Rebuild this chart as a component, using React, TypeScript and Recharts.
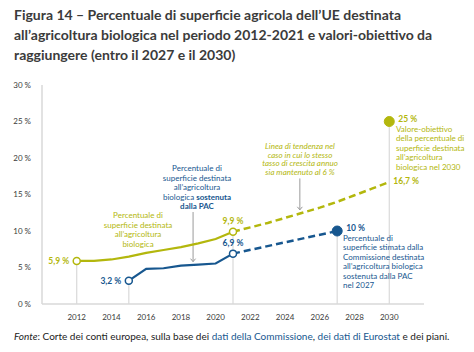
import React from 'react';
import {
  ComposedChart,
  Line,
  XAxis,
  YAxis,
  ReferenceLine,
  ReferenceDot,
} from 'recharts';

const GREEN = '#b3b70d';
const BLUE = '#17578f';
const GRID = '#d9d9d9';
const TEXT = '#3b3b3b';
const FONT = 'Lato, "Open Sans", sans-serif';

// observed share of organic farming area (% of EU UAA)
const organicYears = [2012, 2013, 2014, 2015, 2016, 2017, 2018, 2019, 2020, 2021];
const organicShare = [5.9, 5.9, 6.1, 6.5, 7.0, 7.4, 7.8, 8.3, 8.9, 9.9];

// share supported by the CAP
const capYears = [2015, 2016, 2017, 2018, 2019, 2020, 2021];
const capShare = [3.2, 4.8, 4.9, 5.25, 5.4, 5.55, 6.9];

// trend line (6 % annual growth) 2021-2030
const trendYears = [2021, 2022, 2023, 2024, 2025, 2026, 2027, 2028, 2029, 2030];
const trendShare = [9.9, 10.5, 11.1, 11.8, 12.5, 13.2, 14.0, 14.9, 15.8, 16.7];

// Commission estimate for 2027
const capEstimateYears = [2021, 2027];
const capEstimateShare = [6.9, 10];

const targetYear = 2030;
const targetValue = 25;

const xTicks = [2012, 2014, 2016, 2018, 2020, 2022, 2024, 2026, 2028, 2030];
const yTicks = [0, 5, 10, 15, 20, 25, 30];

const toRows = (xs: number[], ys: number[]) => xs.map((year, i) => ({ year, value: ys[i] }));

const organicData = toRows(organicYears, organicShare);
const capData = toRows(capYears, capShare);
const trendData = toRows(trendYears, trendShare);
const capEstimateData = toRows(capEstimateYears, capEstimateShare);

// vertical guide lines from highlighted points down to the axis
const dropLines = [
  { x: 2012, y: 5.9 },
  { x: 2015, y: 3.2 },
  { x: 2021, y: 9.9 },
  { x: 2027, y: 10 },
  { x: 2030, y: 25 },
];

// annotation arrows
const arrows = [
  { x: 2018.7, from: 12.6, to: 5.8 },
  { x: 2024.85, from: 17.2, to: 12.9 },
];

const Arrow = (props: any) => {
  const { x1, y1, x2, y2 } = props;
  return (
    <g stroke="#9a9a9a" strokeWidth={1} fill="none">
      <line x1={x1} y1={y1} x2={x2} y2={y2} />
      <polyline points={`${x2 - 2.5},${y2 - 3} ${x2},${y2} ${x2 + 2.5},${y2 - 3}`} />
    </g>
  );
};

const valueLabel = (value: string, color: string, position: any, offset: number, dy = 0) => ({
  value,
  position,
  offset,
  dy,
  fill: color,
  fontSize: 8.5,
  fontWeight: 700,
  fontFamily: FONT,
});

const App: React.FC = () => {
  const note = { fontFamily: FONT, fontSize: 8 };
  return (
    <div style={{ position: 'absolute', left: 0, top: 0, width: 474, height: 352, background: '#fff' }}>
      <ComposedChart
        width={474}
        height={352}
        margin={{ top: 85, right: 50, bottom: 0, left: 0 }}
      >
        <XAxis
          dataKey="year"
          type="number"
          domain={[2010, 2032]}
          ticks={xTicks}
          allowDataOverflow
          height={48}
          tickLine={false}
          axisLine={{ stroke: GRID, strokeWidth: 1.5 }}
          tick={{ fill: TEXT, fontSize: 8, fontFamily: FONT }}
          tickMargin={4}
        />
        <YAxis
          type="number"
          domain={[0, 30]}
          ticks={yTicks}
          width={42}
          tickLine={false}
          axisLine={{ stroke: GRID, strokeWidth: 1.5 }}
          tick={{ fill: TEXT, fontSize: 8, fontFamily: FONT }}
          tickMargin={5}
          tickFormatter={(v: number) => `${v} %`}
        />
        {dropLines.map((d) => (
          <ReferenceLine
            key={d.x}
            segment={[{ x: d.x, y: 0 }, { x: d.x, y: d.y }]}
            stroke={GRID}
            strokeWidth={1.2}
          />
        ))}
        {arrows.map((a) => (
          <ReferenceLine
            key={a.x}
            segment={[{ x: a.x, y: a.from }, { x: a.x, y: a.to }]}
            shape={Arrow}
          />
        ))}
        <Line
          data={trendData}
          dataKey="value"
          stroke={GREEN}
          strokeWidth={2.5}
          strokeDasharray="7 4"
          dot={false}
          isAnimationActive={false}
        />
        <Line
          data={capEstimateData}
          dataKey="value"
          stroke={BLUE}
          strokeWidth={2.5}
          strokeDasharray="7 4"
          dot={false}
          isAnimationActive={false}
        />
        <Line
          data={organicData}
          dataKey="value"
          stroke={GREEN}
          strokeWidth={2.2}
          dot={false}
          isAnimationActive={false}
        />
        <Line
          data={capData}
          dataKey="value"
          stroke={BLUE}
          strokeWidth={2.2}
          dot={false}
          isAnimationActive={false}
        />
        <ReferenceDot x={2012} y={5.9} r={3.5} fill="#fff" stroke={GREEN} strokeWidth={1.5}
          label={valueLabel('5,9 %', GREEN, 'left', 4)} />
        <ReferenceDot x={2015} y={3.2} r={3.5} fill="#fff" stroke={BLUE} strokeWidth={1.5}
          label={valueLabel('3,2 %', BLUE, 'left', 4)} />
        <ReferenceDot x={2021} y={9.9} r={3.5} fill="#fff" stroke={GREEN} strokeWidth={1.5}
          label={valueLabel('9,9 %', GREEN, 'top', 4)} />
        <ReferenceDot x={2021} y={6.9} r={3.5} fill="#fff" stroke={BLUE} strokeWidth={1.5}
          label={valueLabel('6,9 %', BLUE, 'top', 4)} />
        <ReferenceDot x={2027} y={10} r={5} fill={BLUE} stroke={BLUE}
          label={valueLabel('10 %', BLUE, 'right', 4, -3)} />
        <ReferenceDot x={targetYear} y={targetValue} r={5} fill={GREEN} stroke={GREEN}
          label={valueLabel('25 %', GREEN, 'right', 4, -3)} />
        <ReferenceDot x={2030} y={16.7} r={0} fill="none" stroke="none"
          label={valueLabel('16,7 %', GREEN, 'right', 4, -1)} />
      </ComposedChart>

      <svg width={474} height={352} style={{ position: 'absolute', left: 0, top: 0, pointerEvents: 'none' }}>
        <g fontFamily={FONT} fontWeight={700} fontSize={14} fill={TEXT}>
          <text x={14} y={20}>Figura 14 – Percentuale di superficie agricola dell’UE destinata</text>
          <text x={14} y={40}>all’agricoltura biologica nel periodo 2012-2021 e valori-obiettivo da</text>
          <text x={14} y={59.5}>raggiungere (entro il 2027 e il 2030)</text>
        </g>

        <g {...note} fill={GREEN} textAnchor="middle">
          <text x={138} y={218}>Percentuale di</text>
          <text x={138} y={227.5}>superficie destinata</text>
          <text x={138} y={237}>all’agricoltura</text>
          <text x={138} y={246.5}>biologica</text>
        </g>

        <g {...note} fill={BLUE} textAnchor="middle">
          <text x={197} y={170.5}>Percentuale di</text>
          <text x={197} y={180.5}>superficie destinata</text>
          <text x={197} y={190}>all’agricoltura</text>
          <text x={197} y={199.5}>biologica <tspan fontWeight={700}>sostenuta</tspan></text>
          <text x={197} y={209} fontWeight={700}>dalla PAC</text>
        </g>

        <g fontFamily={FONT} fontSize={8} fontStyle="italic" fill={GREEN} textAnchor="middle">
          <text x={300} y={149}>Linea di tendenza nel</text>
          <text x={300} y={157.5}>caso in cui lo stesso</text>
          <text x={300} y={166}>tasso di crescita annuo</text>
          <text x={300} y={174.5}>sia mantenuto al 6 %</text>
        </g>

        <g {...note} fill={GREEN}>
          <text x={396} y={131.5}>Valore-obiettivo</text>
          <text x={396} y={141}>della percentuale di</text>
          <text x={396} y={150.5}>superficie destinata</text>
          <text x={396} y={160}>all’agricoltura</text>
          <text x={396} y={169.5}>biologica nel 2030</text>
        </g>

        <g {...note} fill={BLUE}>
          <text x={343} y={240.5}>Percentuale di</text>
          <text x={343} y={250}>superficie stimata dalla</text>
          <text x={343} y={259.5}>Commissione destinata</text>
          <text x={343} y={269}>all’agricoltura biologica</text>
          <text x={343} y={278.5}>sostenuta dalla PAC</text>
          <text x={343} y={288}>nel 2027</text>
        </g>

        <text x={14} y={340} fontFamily={FONT} fontSize={10} fill="#222">
          <tspan fontStyle="italic">Fonte</tspan>
          <tspan>: Corte dei conti europea, sulla base dei </tspan>
          <tspan fill={BLUE}>dati della Commissione</tspan>
          <tspan>, </tspan>
          <tspan fill={BLUE}>dei dati di Eurostat</tspan>
          <tspan> e dei piani.</tspan>
        </text>
      </svg>
    </div>
  );
};

export default App;
